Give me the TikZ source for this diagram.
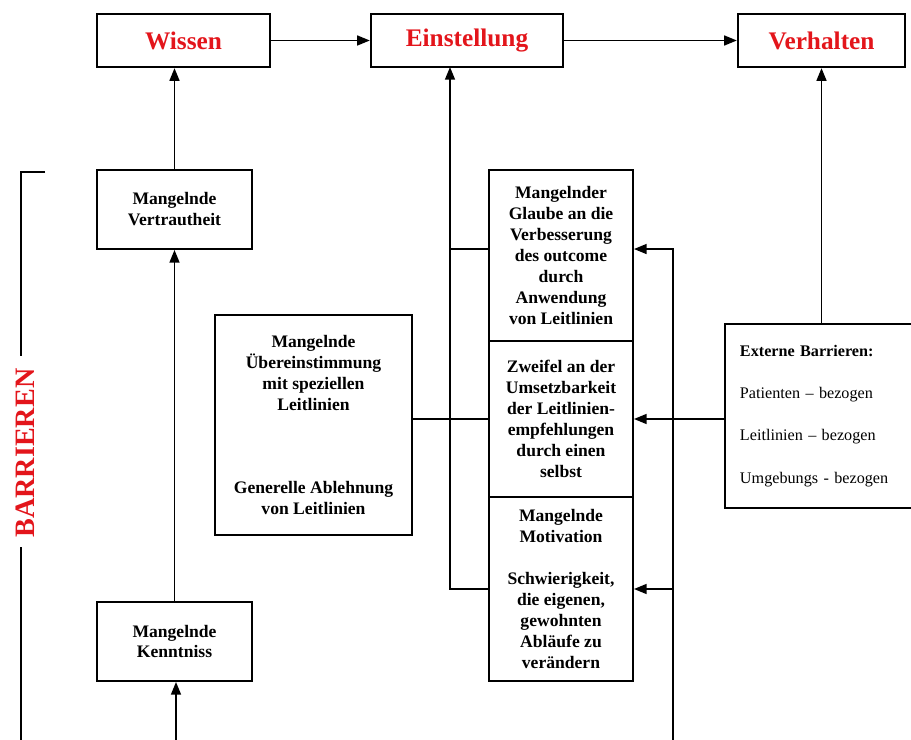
\documentclass[tikz,border=0pt]{standalone}
\usepackage{fontspec}
\setmainfont{Liberation Serif}
\usetikzlibrary{arrows.meta}
\definecolor{title-red}{HTML}{E3151B}

\begin{document}
\begin{tikzpicture}[x=0.025cm, y=-0.025cm, line width=1.3pt, >={Triangle[length=9pt,width=7pt]},
      box/.style={draw, rectangle, align=center, inner sep=0pt, font=\fontsize{12.5}{14.9}\selectfont\bfseries},
      head/.style={draw, rectangle, line width=1.6pt, minimum height=1.325cm, text=title-red, font=\fontsize{18}{20}\selectfont\bfseries}]
      \useasboundingbox (0,0) rectangle (911,740);

      \node[head, minimum width=4.325cm] (wis) at (183.5,40.5) {Wissen};
      \node[head, minimum width=4.8cm] (ein) at (467,40.5) {Einstellung};
      \node[head, minimum width=4.175cm] (ver) at (821.5,40.5) {Verhalten};

      \node[box, minimum width=3.875cm, minimum height=1.975cm] (vt) at (174.5,209.5) {Mangelnde\\Vertrautheit};
      \node[box, minimum width=3.875cm, minimum height=1.975cm] (kn) at (174.5,641.5) {Mangelnde\\Kenntniss};
      \node[box, minimum width=4.925cm, minimum height=5.5cm] (ue) at (313.5,425) {Mangelnde\\Übereinstimmung\\mit speziellen\\Leitlinien\\[44.7pt]Generelle Ablehnung\\von Leitlinien};
      \node[box, minimum width=3.6cm, minimum height=4.275cm] (gl) at (561,255.5) {Mangelnder\\Glaube an die\\Verbesserung\\des outcome\\durch\\Anwendung\\von Leitlinien};
      \node[box, minimum width=3.6cm, minimum height=3.9cm] (zw) at (561,419) {Zweifel an der\\Umsetzbarkeit\\der Leitlinien-\\empfehlungen\\durch einen\\selbst};
      \node[box, minimum width=3.6cm, minimum height=4.6cm] (mo) at (561,589) {Mangelnde\\Motivation\\[14.9pt]Schwierigkeit,\\die eigenen,\\gewohnten\\Abläufe zu\\verändern};
      \node[draw, align=left, text width=4.3cm, inner xsep=0.375cm, minimum height=4.6cm, font=\fontsize{11.5}{14}\selectfont] (ex) at (826,416) {\textbf{Externe Barrieren:}\\[16pt]Patienten -- bezogen\\[16pt]Leitlinien -- bezogen\\[16pt]Umgebungs - bezogen};

      \node[text=title-red, rotate=90, font=\fontsize{20}{22}\selectfont\bfseries] (bar) at (25,453) {BARRIEREN};
      \draw (45,172) -- (21,172) -- (21,356);
      \draw (21,547) -- (21,745);

      \coordinate (ein-l) at (450,67);
      \coordinate (r-bot) at (673,745);
      \coordinate (l-bot) at (176,745);

      \draw[->] (wis) -- (ein);
      \draw[->] (ein) -- (ver);
      \draw[->] (vt.north) -- (vt.north |- wis.south);
      \draw[->] (kn) -- (vt);
      \draw[->] (l-bot) -- (l-bot |- kn.south);
      \draw[->] (mo.west) -| (ein-l);
      \draw ([yshift=4.6pt]gl.west) -- ([yshift=4.6pt]gl.west -| ein-l);
      \draw (ue.east |- zw.west) -- (zw.west);
      \draw[->] (r-bot) |- ([yshift=4.6pt]gl.east);
      \draw[->] (r-bot |- mo.east) -- (mo.east);
      \draw[->] (ex.west |- zw.east) -- (zw.east);
      \draw[->] (ver.south |- ex.north) -- (ver.south);
    \end{tikzpicture}
\end{document}
